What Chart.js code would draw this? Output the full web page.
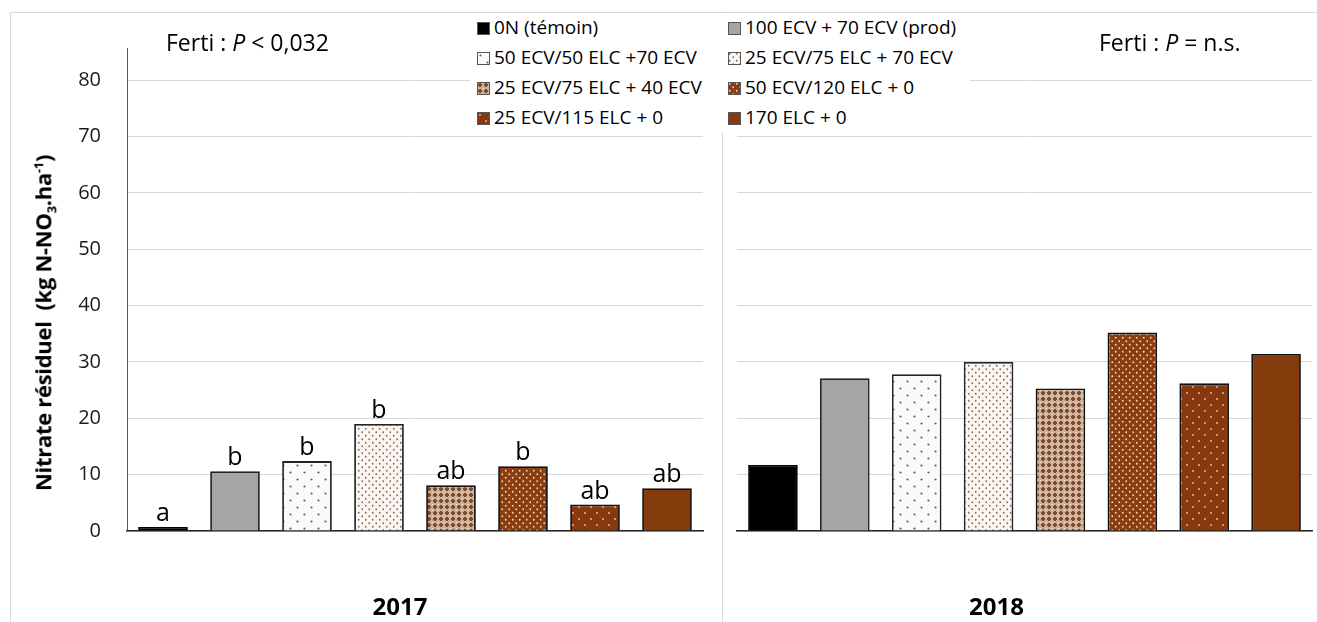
<!DOCTYPE html>
<html>
<head>
<meta charset="utf-8">
<script src="https://cdn.jsdelivr.net/npm/chart.js@4"></script>
<style>
  body { margin: 0; background: #fff; font-family: "Open Sans", sans-serif; }
  #wrap { position: relative; width: 1317px; height: 622px; overflow: hidden; }
  #frame { position: absolute; left: 10px; top: 12px; width: 1400px; height: 700px;
           border-left: 1px solid #d9d9d9; border-top: 1px solid #d9d9d9; }
  #divider { position: absolute; left: 722px; top: 12px; width: 1px; height: 700px; background: #d9d9d9; }
  canvas.chart { position: absolute; top: 0; }
  #c2017 { left: 0; }
  #c2018 { left: 722px; }
  .ferti { position: absolute; font-size: 23px; color: #000; white-space: nowrap; }
  #ytitle { position: absolute; left: 44px; top: 323px; transform: translate(-50%, -50%) rotate(-90deg);
            font-weight: bold; font-size: 22px; white-space: nowrap; color: #000; letter-spacing: -0.3px; }
  #ytitle sub, #ytitle sup { font-size: 13px; }
  #legend { position: absolute; left: 470px; top: 14px; width: 500px; height: 118px; background: #fff; }
  .item { position: absolute; font-size: 19px; white-space: nowrap; color: #000; line-height: 22px; }
  .item canvas { vertical-align: -1px; margin-right: 4px; }
</style>
</head>
<body>
<div id="wrap">
  <div id="frame"></div>
  <div id="divider"></div>
  <canvas id="c2017" class="chart" width="722" height="622"></canvas>
  <canvas id="c2018" class="chart" width="595" height="622"></canvas>
  <div id="ytitle">Nitrate résiduel&nbsp;&nbsp;(kg N-NO<sub>3</sub>.ha<sup>-1</sup>)</div>
  <div class="ferti" style="left:166px; top:26px;">Ferti : <i>P</i> &lt; 0,032</div>
  <div class="ferti" style="left:1099px; top:26px;">Ferti : <i>P</i> = n.s.</div>
  <div id="legend"></div>
</div>
<script>
// treatments (legend order)
const treatments = [
  '0N (témoin)',
  '100 ECV + 70 ECV (prod)',
  '50 ECV/50 ELC +70 ECV',
  '25 ECV/75 ELC + 70 ECV',
  '25 ECV/75 ELC + 40 ECV',
  '50 ECV/120 ELC + 0',
  '25 ECV/115 ELC + 0',
  '170 ELC + 0'
];
const values2017 = [0.7, 10.6, 12.4, 19.0, 8.1, 11.5, 4.7, 7.6];
const values2018 = [11.7, 27.1, 27.8, 30.0, 25.3, 35.2, 26.2, 31.4];
const letters2017 = ['a', 'b', 'b', 'b', 'ab', 'b', 'ab', 'ab'];
const yTicks = [0, 10, 20, 30, 40, 50, 60, 70, 80];

// pattern fills, one per treatment
function dotPattern(bg, dot, step, r) {
  const c = document.createElement('canvas');
  c.width = step; c.height = step;
  const g = c.getContext('2d');
  g.fillStyle = bg; g.fillRect(0, 0, step, step);
  g.fillStyle = dot;
  g.beginPath(); g.arc(step * 0.25, step * 0.25, r, 0, Math.PI * 2); g.fill();
  g.beginPath(); g.arc(step * 0.75, step * 0.75, r, 0, Math.PI * 2); g.fill();
  return g.createPattern(c, 'repeat');
}
// tan background with brown crosses and pale dots
function crossPattern() {
  const c = document.createElement('canvas');
  c.width = 6; c.height = 6;
  const g = c.getContext('2d');
  g.fillStyle = '#cfb096'; g.fillRect(0, 0, 6, 6);
  g.fillStyle = '#7b4a2c';
  g.fillRect(2, 1, 2, 4);
  g.fillRect(1, 2, 4, 2);
  g.fillStyle = '#f6e8d2';
  g.fillRect(0, 0, 1, 1);
  return g.createPattern(c, 'repeat');
}
const fills = [
  '#000000',
  '#a5a5a5',
  dotPattern('#fcfaf8', '#5e5e5e', 14, 1.1),
  dotPattern('#fbf6f1', '#86695a', 7, 0.9),
  crossPattern(),
  dotPattern('#8a3d12', '#f6dcb0', 7, 0.9),
  dotPattern('#86390e', '#efc795', 12, 0.9),
  '#843c0c'
];
const borders = ['#000', '#222', '#222', '#222', '#111', '#111', '#111', '#111'];

function makeDatasets(values) {
  return values.map((v, i) => ({
    label: treatments[i],
    data: [v],
    backgroundColor: fills[i],
    borderColor: borders[i],
    borderWidth: 1.8,
    categoryPercentage: 1.0,
    barPercentage: 0.69
  }));
}

const lettersPlugin = {
  id: 'letters',
  afterDatasetsDraw(chart, args, opts) {
    if (!opts.letters) return;
    const ctx = chart.ctx;
    ctx.save();
    ctx.font = '25px "Open Sans"';
    ctx.fillStyle = '#000';
    ctx.textAlign = 'center';
    ctx.textBaseline = 'alphabetic';
    chart.data.datasets.forEach((ds, i) => {
      const bar = chart.getDatasetMeta(i).data[0];
      ctx.fillText(opts.letters[i], bar.x, bar.y - 6);
    });
    ctx.restore();
  }
};

function makeChart(id, year, values, letters, showY, leftW, rightPad, labelOffset) {
  return new Chart(document.getElementById(id), {
    type: 'bar',
    data: { labels: [year], datasets: makeDatasets(values) },
    plugins: [lettersPlugin],
    options: {
      responsive: false,
      animation: false,
      layout: { padding: { top: 48, right: rightPad, left: 0, bottom: 0 } },
      plugins: { legend: { display: false }, tooltip: { enabled: false }, letters: { letters } },
      scales: {
        x: {
          grid: { display: false },
          border: { display: true, color: '#262626', width: 1.5 },
          ticks: {
            padding: 55, labelOffset,
            color: '#000',
            font: { family: 'Open Sans', size: 24, weight: 'bold' }
          },
          afterFit(s) { s.height = 622 - 531; }
        },
        y: {
          min: 0, max: 85.7,
          afterBuildTicks(s) { s.ticks = yTicks.map(v => ({ value: v })); },
          grid: { color: '#d9d9d9', lineWidth: 1, drawTicks: false },
          border: { display: showY, color: '#595959', width: 1 },
          ticks: {
            display: showY, padding: 26,
            color: '#1a1a1a',
            font: { family: 'Open Sans', size: 20 }
          },
          afterFit(s) { s.width = leftW; }
        }
      }
    }
  });
}

makeChart('c2017', '2017', values2017, letters2017, true, 127, 19, -15);
makeChart('c2018', '2018', values2018, null, false, 15, 5, -28);

// legend
const legend = document.getElementById('legend');
treatments.forEach((t, i) => {
  const col = i % 2, row = Math.floor(i / 2);
  const div = document.createElement('div');
  div.className = 'item';
  div.style.left = (col ? 258 : 7) + 'px';
  div.style.top = (2 + row * 30) + 'px';
  const sw = document.createElement('canvas');
  sw.width = 13; sw.height = 13;
  const g = sw.getContext('2d');
  g.fillStyle = fills[i]; g.fillRect(0, 0, 13, 13);
  g.strokeStyle = '#555'; g.lineWidth = 1; g.strokeRect(0.5, 0.5, 12, 12);
  div.appendChild(sw);
  div.appendChild(document.createTextNode(t));
  legend.appendChild(div);
});
</script>
</body>
</html>
